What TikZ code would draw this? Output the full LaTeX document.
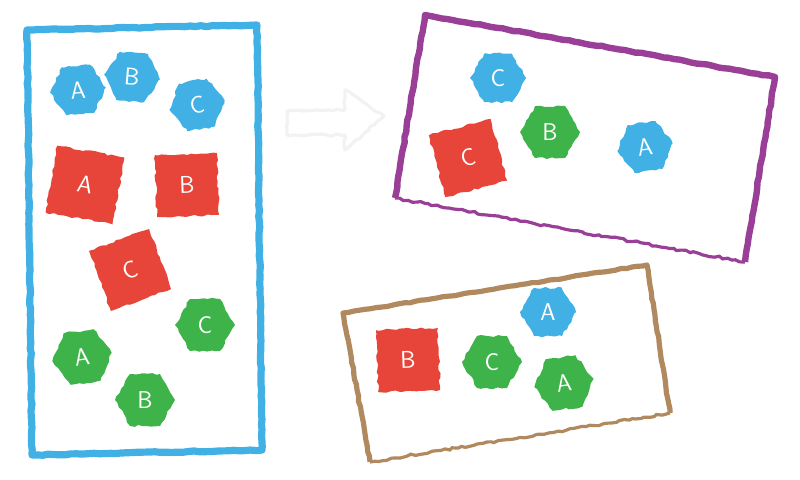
\documentclass[tikz,border=0pt]{standalone}
\usepackage{tikz}
\usetikzlibrary{shapes.geometric, decorations.pathmorphing}

\definecolor{skyblue}{HTML}{41B1E5}
\definecolor{plum}{HTML}{9A3F98}
\definecolor{tan}{HTML}{B08A5E}
\definecolor{brick}{HTML}{E8453A}
\definecolor{leaf}{HTML}{3DB34A}
\definecolor{ghost}{HTML}{F2F2F2}

\begin{document}
\begin{tikzpicture}[
    x=0.25mm, y=-0.25mm,
    rough/.style={decorate, decoration={random steps, segment length=3pt, amplitude=0.8pt}},
    hexa/.style={regular polygon, regular polygon sides=6, minimum size=14mm, inner sep=0pt, rough, text=white, font=\sffamily\LARGE},
    tile/.style={rectangle, minimum size=15.5mm, inner sep=0pt, rough, fill=brick, text=white, font=\sffamily\LARGE},
    frame/.style={line width=1.6mm, line join=round, decorate, decoration={random steps, segment length=4pt, amplitude=0.4pt}},
]
    \useasboundingbox (0,0) rectangle (800,480);

    % sketched arrow
    \draw[ghost, line width=0.8mm, line join=round, rough]
        (287,111) -- (345,110) -- (345,90) -- (384,116) -- (345,150) -- (345,135) -- (287,135) -- cycle;

    % left box
    \draw[frame, skyblue, line width=1.8mm] (27,30) -- (257,25) -- (262,450) -- (32,455) -- cycle;
    \node[hexa, fill=skyblue, rotate=5]  (la1) at (78,90)   {A};
    \node[hexa, fill=skyblue, rotate=-5] (lb1) at (132,77)  {B};
    \node[hexa, fill=skyblue, rotate=10] (lc1) at (197,105) {C};
    \node[tile, rotate=-10, minimum size=17mm] (la2) at (85,185)  {A};
    \node[tile, rotate=2]                      (lb2) at (187,185) {B};
    \node[tile, rotate=20, minimum size=16mm]  (lc2) at (130,270) {C};
    \node[hexa, fill=leaf, minimum size=15mm]           (lc3) at (205,325) {C};
    \node[hexa, fill=leaf, minimum size=15mm, rotate=8] (la3) at (82,357)  {A};
    \node[hexa, fill=leaf, minimum size=15mm]           (lb3) at (145,400) {B};

    % purple box
    \draw[frame, plum] (395,198) -- (425,15) -- (775,77) -- (745,262);
    \draw[plum, line width=0.8mm, rough] (395,198) -- (745,262);
    \node[hexa, fill=skyblue]                         (pc1) at (498,78)  {C};
    \node[hexa, fill=leaf, minimum size=15mm]         (pb1) at (550,132) {B};
    \node[hexa, fill=skyblue, rotate=8]               (pa1) at (645,147) {A};
    \node[tile, rotate=15, minimum size=16mm]         (pc2) at (468,158) {C};

    % brown box
    \draw[frame, tan, line width=1.3mm] (370,462) -- (343,313) -- (647,265) -- (670,413);
    \draw[tan, line width=0.8mm, rough] (370,462) -- (670,413);
    \node[tile, rotate=2]                             (bb1) at (408,360) {B};
    \node[hexa, fill=leaf, minimum size=15mm]         (bc1) at (492,362) {C};
    \node[hexa, fill=skyblue]                         (ba1) at (548,312) {A};
    \node[hexa, fill=leaf, minimum size=15mm, rotate=8] (ba2) at (564,383) {A};
\end{tikzpicture}
\end{document}
